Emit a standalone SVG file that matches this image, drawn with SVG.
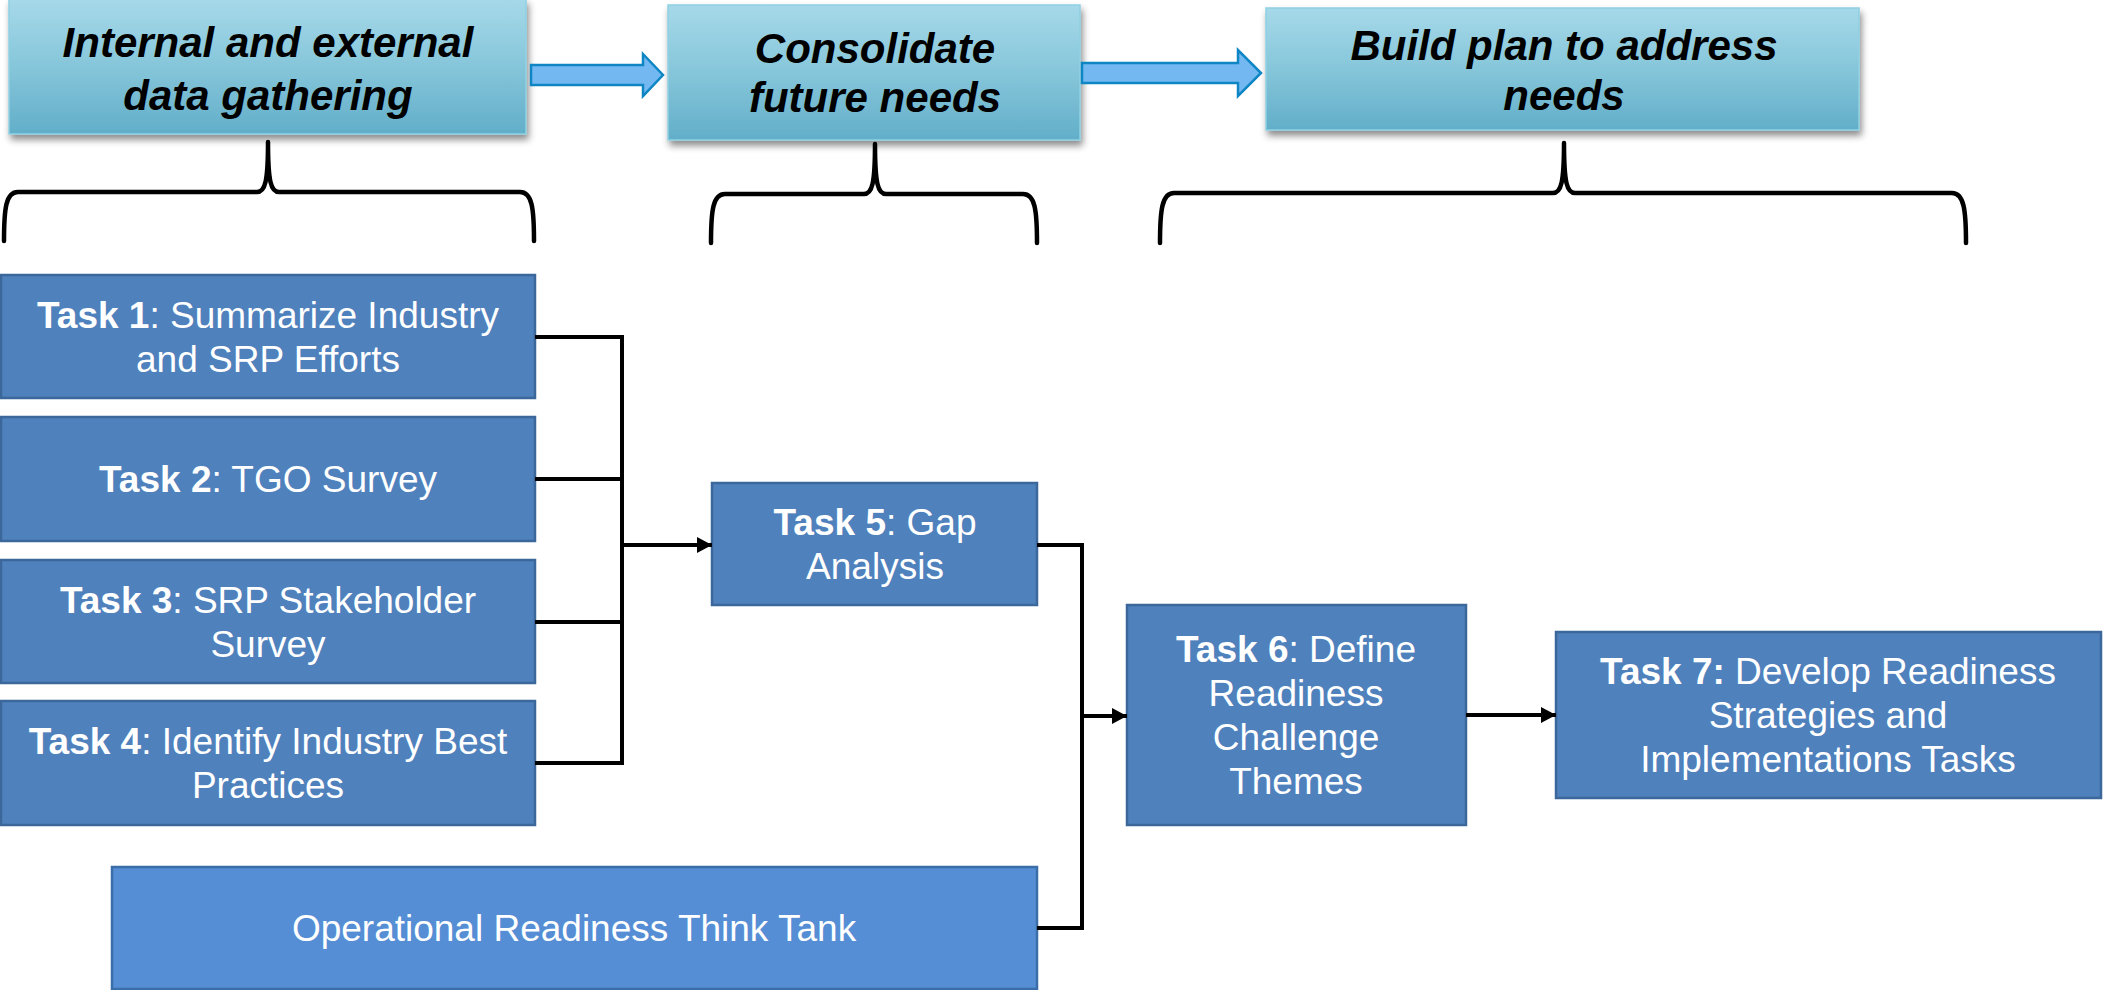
<svg xmlns="http://www.w3.org/2000/svg" width="2103" height="990" viewBox="0 0 2103 990">
<style>
.hdr{font-family:"Liberation Sans",Arial,sans-serif;font-size:42px;font-weight:bold;font-style:italic;fill:#000;text-anchor:middle}
.task{fill:#4f81bd;stroke:#3b679b;stroke-width:2.5}
.tank{fill:#558ed5;stroke:#3b6ea8;stroke-width:2.5}
.tt{font-family:"Liberation Sans",Arial,sans-serif;font-size:37px;fill:#fff;text-anchor:middle}
.b{font-weight:bold}
.con{fill:none;stroke:#000;stroke-width:4;stroke-linejoin:miter}
.brace{fill:none;stroke:#000;stroke-width:4.5;stroke-linejoin:round;stroke-linecap:round}
.blk{fill:#74b8f2;stroke:#0e86c4;stroke-width:2.5}
.hbox{fill:url(#hg);stroke:#8fd0e2;stroke-width:1.5;filter:url(#sh)}
</style>
<defs>
<linearGradient id="hg" x1="0" y1="0" x2="0" y2="1">
<stop offset="0" stop-color="#a6d9e9"/>
<stop offset="0.5" stop-color="#86c6da"/>
<stop offset="1" stop-color="#62aec9"/>
</linearGradient>
<filter id="sh" x="-5%" y="-10%" width="115%" height="130%">
<feDropShadow dx="2" dy="5" stdDeviation="3.5" flood-color="#000" flood-opacity="0.45"/>
</filter>
<marker id="ah" markerUnits="userSpaceOnUse" markerWidth="16" markerHeight="18" refX="15" refY="8" orient="auto">
<path d="M0,0 L15,8 L0,16 Z" fill="#000"/>
</marker>
</defs>

<g id="header1">
<rect class="hbox" x="9" y="-1" width="517" height="135"/>
<text class="hdr" x="268" y="57">Internal and external</text>
<text class="hdr" x="268" y="110">data gathering</text>
</g>
<g id="header2">
<rect class="hbox" x="668" y="5" width="412" height="135"/>
<text class="hdr" x="875" y="63">Consolidate</text>
<text class="hdr" x="875" y="112">future needs</text>
</g>
<g id="header3">
<rect class="hbox" x="1266" y="8" width="593" height="122"/>
<text class="hdr" x="1564" y="60">Build plan to address</text>
<text class="hdr" x="1564" y="110">needs</text>
</g>

<g id="header-arrows">
<polygon class="blk" points="531,65 643,65 643,54 663,75 643,96 643,85 531,85"/>
<polygon class="blk" points="1082,63 1238,63 1238,50 1261,73 1238,96 1238,83 1082,83"/>
</g>

<g id="braces">
<path class="brace" d="M4,241 C4,208 6,192 18,192 L257,192 C265,192 268,182 268,142 C268,182 271,192 279,192 L520,192 C532,192 534,208 534,241"/>
<path class="brace" d="M711,243 C711,210 713,194 725,194 L864,194 C872,194 875,184 875,144 C875,184 878,194 886,194 L1023,194 C1035,194 1037,210 1037,243"/>
<path class="brace" d="M1160,243 C1160,210 1162,193 1174,193 L1553,193 C1561,193 1564,183 1564,143 C1564,183 1567,193 1575,193 L1952,193 C1964,193 1966,210 1966,243"/>
</g>

<g id="task1">
<rect class="task" x="1" y="275" width="534" height="123"/>
<text class="tt" x="268" y="328"><tspan class="b">Task 1</tspan>: Summarize Industry</text>
<text class="tt" x="268" y="372">and SRP Efforts</text>
</g>
<g id="task2">
<rect class="task" x="1" y="417" width="534" height="124"/>
<text class="tt" x="268" y="492"><tspan class="b">Task 2</tspan>: TGO Survey</text>
</g>
<g id="task3">
<rect class="task" x="1" y="560" width="534" height="123"/>
<text class="tt" x="268" y="613"><tspan class="b">Task 3</tspan>: SRP Stakeholder</text>
<text class="tt" x="268" y="657">Survey</text>
</g>
<g id="task4">
<rect class="task" x="1" y="701" width="534" height="124"/>
<text class="tt" x="268" y="754"><tspan class="b">Task 4</tspan>: Identify Industry Best</text>
<text class="tt" x="268" y="798">Practices</text>
</g>
<g id="thinktank">
<rect class="tank" x="112" y="867" width="925" height="122"/>
<text class="tt" x="574" y="941">Operational Readiness Think Tank</text>
</g>
<g id="task5">
<rect class="task" x="712" y="483" width="325" height="122"/>
<text class="tt" x="875" y="535"><tspan class="b">Task 5</tspan>: Gap</text>
<text class="tt" x="875" y="579">Analysis</text>
</g>
<g id="task6">
<rect class="task" x="1127" y="605" width="339" height="220"/>
<text class="tt" x="1296" y="662"><tspan class="b">Task 6</tspan>: Define</text>
<text class="tt" x="1296" y="706">Readiness</text>
<text class="tt" x="1296" y="750">Challenge</text>
<text class="tt" x="1296" y="794">Themes</text>
</g>
<g id="task7">
<rect class="task" x="1556" y="632" width="545" height="166"/>
<text class="tt" x="1828" y="684"><tspan class="b">Task 7:</tspan> Develop Readiness</text>
<text class="tt" x="1828" y="728">Strategies and</text>
<text class="tt" x="1828" y="772">Implementations Tasks</text>
</g>

<g id="connectors">
<path class="con" d="M535,337 H622 V763 H535"/>
<path class="con" d="M535,479 H622"/>
<path class="con" d="M535,622 H622"/>
<path class="con" d="M622,545 H712" marker-end="url(#ah)"/>
<path class="con" d="M1037,545 H1082 V928 H1037"/>
<path class="con" d="M1082,716 H1127" marker-end="url(#ah)"/>
<path class="con" d="M1466,715 H1556" marker-end="url(#ah)"/>
</g>
</svg>
